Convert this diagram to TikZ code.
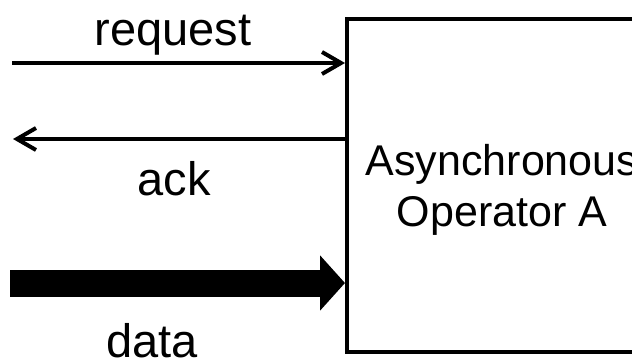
\documentclass[tikz,border=0pt]{standalone}
\usepackage{fontspec}
\setmainfont{Liberation Sans}
\usetikzlibrary{arrows.meta}
\tikzset{
  sig/.style={line width=4pt},
  barb/.style={-{Straight Barb[length=19pt,width=22pt]}},
  lbl/.style={anchor=base, inner sep=0pt, font=\fontsize{47}{56}\selectfont},
  boxtxt/.style={anchor=base, inner sep=0pt, font=\fontsize{43}{52}\selectfont},
}
\begin{document}
\begin{tikzpicture}[x=1pt,y=-1pt]
\useasboundingbox (0,0) rectangle (632,364);
\clip (0,0) rectangle (632,364);
\fill[white] (0,0) rectangle (632,364);
\node[draw, line width=4pt, inner sep=0pt, minimum width=315pt, minimum height=333pt, anchor=north west] (box) at (345,17) {};
\node[boxtxt] (asy) at (502,175) {Asynchronous};
\node[boxtxt] (opa) at (502,226) {Operator A};
\coordinate (reqL) at (12,63);
\coordinate (ackL) at (13,139);
\coordinate (datL) at (10,283);
\draw[sig,barb] (reqL) -- (reqL -| box.west);
\draw[sig,barb] (ackL -| box.west) -- (ackL);
\draw[line width=27pt,-{Triangle[length=25pt,width=54pt]}] (datL) -- (datL -| box.west);
\node[lbl] (req) at (173,45) {request};
\node[lbl] (ack) at (174,195) {ack};
\node[lbl] (dat) at (152,357) {data};
\end{tikzpicture}
\end{document}
